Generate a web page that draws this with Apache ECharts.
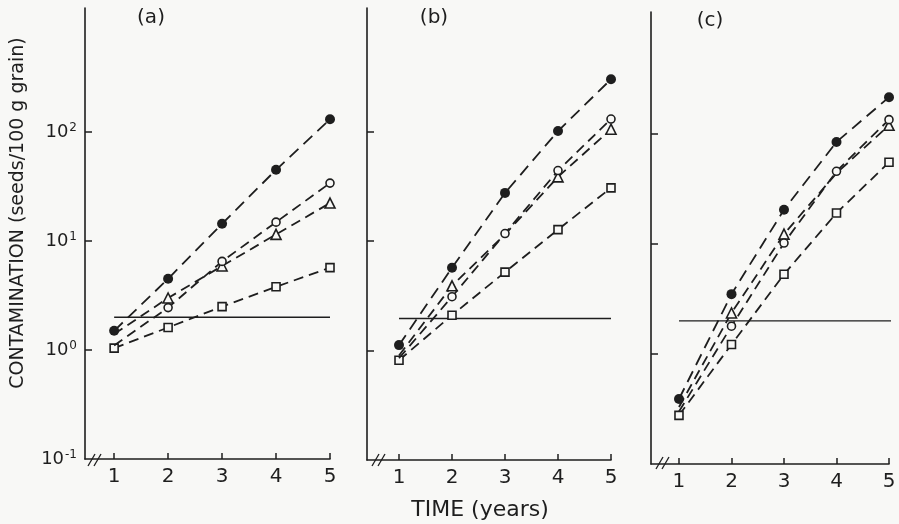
<!DOCTYPE html>
<html><head><meta charset="utf-8">
<script src="https://cdn.jsdelivr.net/npm/echarts@6/dist/echarts.min.js"></script>
<style>html,body{margin:0;padding:0;background:#f8f8f6}#c{width:899px;height:524px}</style>
</head><body><div id="c"></div>
<script>
// ---- data ----
const years = [1, 2, 3, 4, 5];
const panelLabels = ['(a)', '(b)', '(c)'];
const yTickValues = [1, 10, 100];
const yLabelValues = [0.1, 1, 10, 100];
const seriesNames = ['filled circle', 'open circle', 'triangle', 'square'];

const aFilled = [1.5, 4.5, 14.4, 45, 131];
const aOpen   = [1.1, 2.45, 6.5, 14.9, 34];
const aTri    = [1.4, 3.0, 5.9, 11.5, 22.3];
const aSquare = [1.04, 1.61, 2.5, 3.8, 5.7];

const bFilled = [1.12, 5.7, 27.5, 101, 300];
const bOpen   = [0.85, 3.1, 11.7, 44, 130];
const bTri    = [0.9, 3.9, 11.5, 38.5, 105];
const bSquare = [0.815, 2.1, 5.2, 12.7, 30.6];

const cFilled = [0.39, 3.5, 20.5, 84.6, 216];
const cOpen   = [0.3, 1.79, 10.2, 45.8, 135];
const cTri    = [0.33, 2.36, 12.3, 44, 120];
const cSquare = [0.277, 1.22, 5.3, 19.1, 55.3];

const thresholds = [2.0, 1.96, 2.0];
const thresholdEnd = [5, 5, 5.2];
// points whose markers are hidden under others (panel, series, index)
const hiddenPoints = [[0,1,0],[0,2,0],[1,1,0],[1,2,0],[1,2,2],[2,1,0],[2,2,0],[2,2,3]];

const panels = [
  [aFilled, aOpen, aTri, aSquare],
  [bFilled, bOpen, bTri, bSquare],
  [cFilled, cOpen, cTri, cSquare]
];

// ---- layout / style ----
const ink = '#1e1e1e', bg = '#f8f8f6';
const FONT = '"DejaVu Sans", "Liberation Sans", sans-serif';
const grids = [
  {left: 85, top: 8, width: 245, height: 451},
  {left: 367, top: 8, width: 244, height: 452},
  {left: 651, top: 12, width: 238, height: 452}
];
const xMins = [0.46, 0.396, 0.467];
const yMaxs = [1374, 1343, 1285];

const symbolStyles = [
  {symbol: 'circle', symbolSize: 10, itemStyle: {color: ink}, dash: [12, 7]},
  {symbol: 'circle', symbolSize: 8, itemStyle: {color: bg, borderColor: ink, borderWidth: 1.6}, dash: [10, 6]},
  {symbol: 'triangle', symbolSize: 10, itemStyle: {color: bg, borderColor: ink, borderWidth: 1.6}, dash: [10, 6]},
  {symbol: 'rect', symbolSize: 8, itemStyle: {color: bg, borderColor: ink, borderWidth: 1.6}, dash: [10, 6]}
];

const xAxes = [], yAxes = [], series = [];
grids.forEach((g, p) => {
  xAxes.push({
    type: 'value', gridIndex: p, min: xMins[p], max: 5,
    axisLine: {show: true, lineStyle: {color: ink, width: 1.6}},
    axisTick: {show: true, inside: true, length: 6, customValues: years, lineStyle: {color: ink, width: 1.5}},
    axisLabel: {show: true, customValues: years, margin: 8, color: ink, fontSize: 20, fontFamily: FONT},
    splitLine: {show: false}
  });
  yAxes.push({
    type: 'log', logBase: 10, gridIndex: p, min: 0.1, max: yMaxs[p],
    axisLine: {show: true, lineStyle: {color: ink, width: 1.6}},
    axisTick: {show: true, inside: true, length: 7, customValues: yTickValues, lineStyle: {color: ink, width: 1.5}},
    axisLabel: {
      show: p === 0, customValues: yLabelValues, margin: 8, color: ink, verticalAlign: 'middle',
      formatter: v => '{n|10}{s|' + Math.round(Math.log10(v)) + '}',
      rich: {
        n: {fontSize: 18, fontFamily: FONT, color: ink, lineHeight: 20, verticalAlign: 'middle'},
        s: {fontSize: 12, fontFamily: FONT, color: ink, lineHeight: 12, padding: [0, 0, 16, 1], verticalAlign: 'top'}
      }
    },
    splitLine: {show: false}
  });
  panels[p].forEach((vals, s) => {
    const st = symbolStyles[s];
    series.push({
      name: seriesNames[s], type: 'line', xAxisIndex: p, yAxisIndex: p,
      symbol: st.symbol, symbolSize: st.symbolSize, itemStyle: st.itemStyle,
      lineStyle: {color: ink, width: 1.8, type: st.dash},
      clip: false, z: 3 + (3 - s),
      data: vals.map((v, i) => {
        const hide = hiddenPoints.some(h => h[0] === p && h[1] === s && h[2] === i);
        return hide ? {value: [years[i], v], symbol: 'none'} : [years[i], v];
      })
    });
  });
  series.push({
    type: 'line', xAxisIndex: p, yAxisIndex: p, symbol: 'none', clip: false, z: 2,
    lineStyle: {color: ink, width: 1.4},
    data: [[years[0], thresholds[p]], [thresholdEnd[p], thresholds[p]]]
  });
});

const breakMarks = [[88, 466], [372, 466], [656, 469]];
const graphic = [
  {type: 'text', x: 18, y: 213, rotation: Math.PI / 2,
   style: {text: 'CONTAMINATION (seeds/100 g grain)', font: '19px ' + FONT, fill: ink, align: 'center', verticalAlign: 'middle'}},
  {type: 'text', x: 480, y: 510,
   style: {text: 'TIME (years)', font: '22px ' + FONT, fill: ink, align: 'center', verticalAlign: 'middle'}}
];
const labelPos = [[151, 18], [434, 18], [710, 21]];
panelLabels.forEach((t, i) => graphic.push({type: 'text', x: labelPos[i][0], y: labelPos[i][1],
  style: {text: t, font: '20px ' + FONT, fill: ink, align: 'center', verticalAlign: 'middle'}}));
breakMarks.forEach(b => {
  [0, 6].forEach(d => graphic.push({type: 'line', shape: {x1: b[0] + d, y1: b[1], x2: b[0] + d + 7, y2: b[1] - 12},
    style: {stroke: ink, lineWidth: 1.3}}));
});

const chart = echarts.init(document.getElementById('c'), null, {renderer: 'canvas'});
chart.setOption({
  backgroundColor: bg, animation: false,
  grid: grids.map(g => Object.assign({containLabel: false}, g)),
  xAxis: xAxes, yAxis: yAxes, series: series, graphic: graphic
});
</script></body></html>
